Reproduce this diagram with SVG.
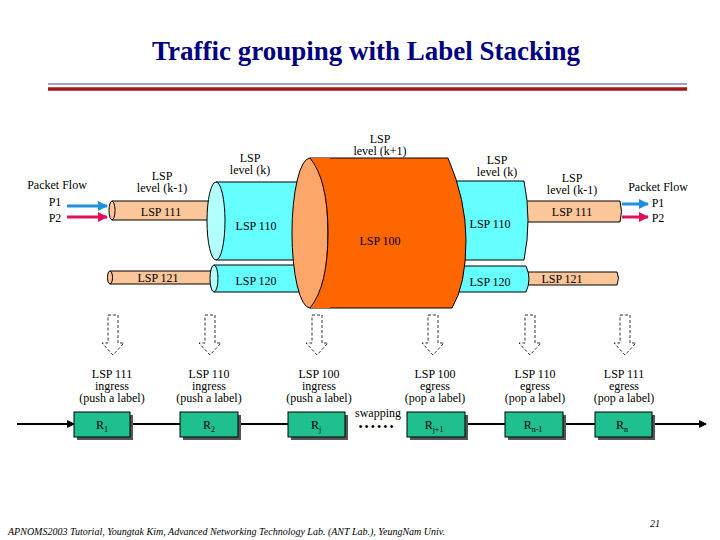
<svg xmlns="http://www.w3.org/2000/svg" width="720" height="540" viewBox="0 0 720 540" font-family="'Liberation Serif', 'Times New Roman', serif">
<defs>
<style>
text{font-family:'Liberation Serif','Times New Roman',serif;fill:#000}
.l{font-size:12px;text-anchor:middle}
.s{font-size:12px;text-anchor:middle}
.tan{fill:#fbc79a;stroke:#000;stroke-width:1}
.cy{fill:#66ffff;stroke:#000;stroke-width:1}
.cyl{fill:#b3ffff;stroke:#000;stroke-width:1}
.or{fill:#ff6600;stroke:#000;stroke-width:1}
.orl{fill:#fda66a;stroke:#000;stroke-width:1}
.rt{fill:#1fbf8f;stroke:#000;stroke-width:1}
.sh{fill:#555}
.da{fill:#fff;stroke:#000;stroke-width:0.8;stroke-dasharray:3,2}
.ln{stroke:#000;stroke-width:2;fill:none}
</style>
<marker id="ah" markerWidth="8" markerHeight="8" refX="7" refY="4" orient="auto" markerUnits="userSpaceOnUse"><path d="M0,0 L8,4 L0,8 Z" fill="#000"/></marker>
<marker id="ab" markerWidth="10" markerHeight="10" refX="9" refY="5" orient="auto" markerUnits="userSpaceOnUse"><path d="M0,0 L10,5 L0,10 Z" fill="#1e90e0"/></marker>
<marker id="ar" markerWidth="10" markerHeight="10" refX="9" refY="5" orient="auto" markerUnits="userSpaceOnUse"><path d="M0,0 L10,5 L0,10 Z" fill="#e0105a"/></marker>
<g id="darrow"><path class="da" d="M-5,0 H5 V28 H11 L0,40 L-11,28 H-5 Z"/></g>
</defs>
<rect width="720" height="540" fill="#fff"/>
<text x="366" y="60" style="font-size:27px;font-weight:bold;fill:#000080;text-anchor:middle">Traffic grouping with Label Stacking</text>
<line x1="48" y1="84" x2="687" y2="84" stroke="#3c4a8c" stroke-width="1"/>
<line x1="48" y1="89" x2="687" y2="89" stroke="#a01818" stroke-width="3.5"/>

<g id="right-tubes">
<path class="tan" d="M525,272 H617 Q620,278 617,285 H525 Z"/>
<text class="s" x="562" y="283">LSP 121</text>
<path class="tan" d="M525,201 H620 Q623,211 620,222 H525 Z"/>
<text class="s" x="572" y="216">LSP 111</text>
<path class="cy" d="M455,266 H526 Q532,279 526,292 H455 Z"/>
<text class="s" x="490" y="286">LSP 120</text>
<path class="cy" d="M455,181 H524 Q532,220 524,260 H455 Z"/>
<text class="s" x="490" y="228">LSP 110</text>
</g>
<g id="left-tubes">
<path class="tan" d="M110,271 H212 V284 H110 Z"/><ellipse class="tan" cx="110" cy="277.5" rx="2.5" ry="6.5"/>
<text class="s" x="158" y="282">LSP 121</text>
<path class="tan" d="M112,201 H215 V220 H112 Z"/><ellipse class="tan" cx="112" cy="210.5" rx="3" ry="9.5"/>
<text class="s" x="161" y="216">LSP 111</text>
<path class="cy" d="M214,265 H302 V292 H214 Z"/><ellipse class="cyl" cx="214" cy="278.5" rx="4" ry="13.5"/>
<text class="s" x="256" y="285">LSP 120</text>
<path class="cy" d="M216,182 H303 V260 H216 Z"/><ellipse class="cyl" cx="216" cy="221" rx="9" ry="39"/>
<text class="s" x="256" y="230">LSP 110</text>
</g>
<g id="lsp100">
<path class="or" d="M310,158 H448 Q466,200 466,240 Q466,285 452,308 H310 Z"/>
<ellipse class="orl" cx="310" cy="233" rx="18" ry="75"/>
<path d="M310,158 Q325,170 328,233 Q325,296 310,308 H330 V158 Z" fill="#ff6600"/>
<path d="M310,158 Q328,180 328,233 Q328,286 310,308" fill="none" stroke="#000"/>
<text class="s" x="380" y="245">LSP 100</text>
</g>
<g id="labels-top">
<text class="l" x="380" y="143">LSP</text><text class="l" x="380" y="155">level (k+1)</text>
<text class="l" x="250" y="162">LSP</text><text class="l" x="250" y="174">level (k)</text>
<text class="l" x="162" y="180">LSP</text><text class="l" x="162" y="192">level (k-1)</text>
<text class="l" x="497" y="164">LSP</text><text class="l" x="497" y="176">level (k)</text>
<text class="l" x="572" y="182">LSP</text><text class="l" x="572" y="194">level (k-1)</text>
<text class="l" x="57" y="189">Packet  Flow</text>
<text class="l" x="55" y="206">P1</text><text class="l" x="55" y="222">P2</text>
<text class="l" x="658" y="191">Packet  Flow</text>
<text class="l" x="658" y="207">P1</text><text class="l" x="658" y="222">P2</text>
</g>
<g id="flow-arrows">
<line x1="67" y1="206" x2="107" y2="206" stroke="#1e90e0" stroke-width="3" marker-end="url(#ab)"/>
<line x1="67" y1="217" x2="107" y2="217" stroke="#e0105a" stroke-width="3" marker-end="url(#ar)"/>
<line x1="622" y1="204" x2="648" y2="204" stroke="#1e90e0" stroke-width="3" marker-end="url(#ab)"/>
<line x1="622" y1="217" x2="648" y2="217" stroke="#e0105a" stroke-width="3" marker-end="url(#ar)"/>
</g>
<g id="down-arrows">
<use href="#darrow" x="113" y="315"/><use href="#darrow" x="210" y="315"/><use href="#darrow" x="317" y="315"/>
<use href="#darrow" x="433" y="315"/><use href="#darrow" x="530" y="315"/><use href="#darrow" x="625" y="315"/>
</g>
<g id="connectors">
<line class="ln" x1="17" y1="424" x2="74" y2="424" marker-end="url(#ah)"/>
<line class="ln" x1="131" y1="424" x2="180" y2="424"/>
<line class="ln" x1="239" y1="424" x2="288" y2="424"/>
<line class="ln" x1="466" y1="424" x2="505" y2="424"/>
<line class="ln" x1="564" y1="424" x2="595" y2="424"/>
<line class="ln" x1="653" y1="424" x2="706" y2="424" marker-end="url(#ah)"/>
<text class="s" x="378" y="417">swapping</text>
<text class="l" x="377" y="431" style="letter-spacing:2px">••••••</text>
</g>
<g id="R1"><rect class="sh" x="77" y="415" width="56" height="25"/><rect class="rt" x="74" y="412" width="56" height="25"/><text class="l" x="102" y="429">R<tspan font-size="8" dy="3">1</tspan></text>
<text class="l" x="112" y="378">LSP 111</text><text class="l" x="112" y="390">ingress</text><text class="l" x="112" y="402">(push a label)</text></g>
<g id="R2"><rect class="sh" x="183" y="415" width="58" height="25"/><rect class="rt" x="180" y="412" width="58" height="25"/><text class="l" x="209" y="429">R<tspan font-size="8" dy="3">2</tspan></text>
<text class="l" x="209" y="378">LSP 110</text><text class="l" x="209" y="390">ingress</text><text class="l" x="209" y="402">(push a label)</text></g>
<g id="Rj"><rect class="sh" x="291" y="415" width="57" height="25"/><rect class="rt" x="288" y="412" width="57" height="25"/><text class="l" x="316" y="429">R<tspan font-size="8" dy="3">j</tspan></text>
<text class="l" x="319" y="378">LSP 100</text><text class="l" x="319" y="390">ingress</text><text class="l" x="319" y="402">(push a label)</text></g>
<g id="Rj1"><rect class="sh" x="410" y="415" width="58" height="25"/><rect class="rt" x="407" y="412" width="58" height="25"/><text class="l" x="434" y="429">R<tspan font-size="8" dy="3">j+1</tspan></text>
<text class="l" x="435" y="378">LSP 100</text><text class="l" x="435" y="390">egress</text><text class="l" x="435" y="402">(pop a label)</text></g>
<g id="Rn1"><rect class="sh" x="508" y="415" width="58" height="25"/><rect class="rt" x="505" y="412" width="58" height="25"/><text class="l" x="533" y="429">R<tspan font-size="8" dy="3">n-1</tspan></text>
<text class="l" x="535" y="378">LSP 110</text><text class="l" x="535" y="390">egress</text><text class="l" x="535" y="402">(pop a label)</text></g>
<g id="Rn"><rect class="sh" x="598" y="415" width="57" height="25"/><rect class="rt" x="595" y="412" width="57" height="25"/><text class="l" x="622" y="429">R<tspan font-size="8" dy="3">n</tspan></text>
<text class="l" x="624" y="378">LSP 111</text><text class="l" x="624" y="390">egress</text><text class="l" x="624" y="402">(pop a label)</text></g>
<text x="8" y="535" style="font-size:10px;font-style:italic">APNOMS2003 Tutorial,   Youngtak Kim,  Advanced Networking Technology Lab. (ANT Lab.),  YeungNam Univ.</text>
<text x="650" y="527" style="font-size:10px;font-style:italic">21</text>
</svg>
